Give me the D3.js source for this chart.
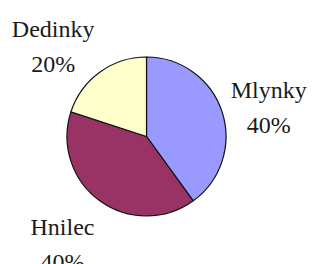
<!DOCTYPE html>
<html>
<head>
<meta charset="utf-8">
<script src="https://cdn.jsdelivr.net/npm/d3@7"></script>
<style>
  body { margin: 0; background: #fff; }
</style>
</head>
<body>
<script>
var categories = ["Mlynky", "Hnilec", "Dedinky"];
var values = [40, 40, 20];
var colors = ["#9999ff", "#993366", "#ffffcc"];

var width = 314, height = 264;
var cx = 146.5, cy = 136.5, radius = 79.5;
var labelFont = "Liberation Serif";

var svg = d3.select("body")
    .append("svg")
    .attr("width", width)
    .attr("height", height)
    .style("font-family", labelFont);

var pie = d3.pie().sort(null).value(function (d) { return d; });
var arcs = pie(values);
var total = d3.sum(values);

var arc = d3.arc().innerRadius(0).outerRadius(radius);

var g = svg.append("g").attr("transform", "translate(" + cx + "," + cy + ")");

g.selectAll("path")
    .data(arcs)
    .enter()
    .append("path")
    .attr("d", arc)
    .attr("fill", function (d, i) { return colors[i]; })
    .attr("stroke", "#111")
    .attr("stroke-width", 1.2);

// labels outside the pie, two lines: name and percent
var lineGap = 35, labelR = radius + 9;
arcs.forEach(function (d, i) {
    var a = (d.startAngle + d.endAngle) / 2;
    var px = Math.sin(a) * labelR, py = -Math.cos(a) * labelR;
    var t = g.append("text")
        .attr("text-anchor", "middle")
        .attr("font-size", 24)
        .style("font-family", labelFont)
        .attr("fill", "#1a1a1a");
    t.append("tspan").attr("x", 0).attr("dy", 0).text(categories[i]);
    t.append("tspan").attr("x", 0).attr("dy", lineGap)
        .text(Math.round(values[i] / total * 100) + "%");
    var bb = t.node().getBBox();
    var hw = bb.width / 2, hh = 34;
    var x = px + Math.sign(Math.sin(a)) * hw;
    var y = py - Math.cos(a) * hh + 9;
    t.attr("transform", "translate(" + x + "," + (y - 9.5) + ")");
});
</script>
</body>
</html>
